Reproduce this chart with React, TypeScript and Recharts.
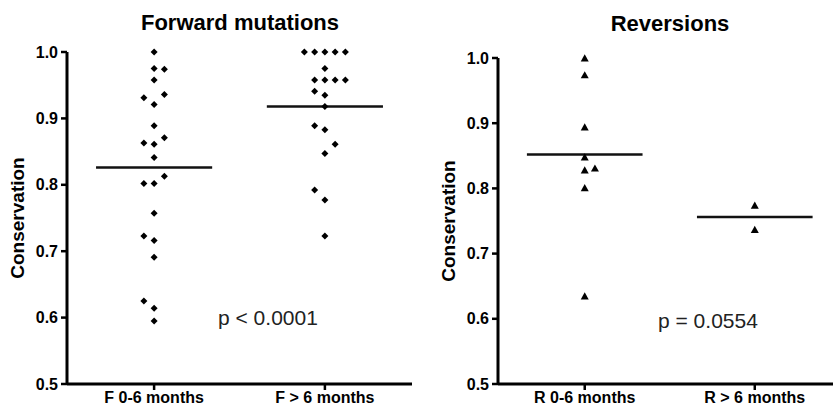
import { ScatterChart, Scatter, XAxis, YAxis, ReferenceLine } from "recharts";

// conservation values, with their dot column (-2..2) inside each group
const fEarlyValues = [1.0, 0.975, 0.974, 0.958, 0.931, 0.936, 0.921, 0.889, 0.863, 0.861, 0.871, 0.841, 0.813, 0.802, 0.802, 0.757, 0.723, 0.716, 0.691, 0.625, 0.614, 0.595];
const fEarlyCols = [0, 0, 1, 0, -1, 1, 0, 0, -1, 0, 1, 0, 1, -1, 0, 0, -1, 0, 0, -1, 0, 0];
const fLateValues = [1.0, 1.0, 1.0, 1.0, 1.0, 0.975, 0.958, 0.958, 0.958, 0.958, 0.941, 0.935, 0.918, 0.889, 0.883, 0.861, 0.847, 0.792, 0.777, 0.723];
const fLateCols = [-2, -1, 0, 1, 2, 0, -1, 0, 1, 2, -1, 0, 0, -1, 0, 1, 0, -1, 0, 0];
const rEarlyValues = [1.0, 0.974, 0.894, 0.848, 0.828, 0.831, 0.801, 0.635];
const rEarlyCols = [0, 0, 0, 0, 0, 1, 0, 0];
const rLateValues = [0.774, 0.737];
const rLateCols = [0, 0];

const forwardLabels = ["F 0-6 months", "F > 6 months"];
const reversionLabels = ["R 0-6 months", "R > 6 months"];
const forwardMeans = [0.826, 0.918];
const reversionMeans = [0.852, 0.756];
const yTicks = [0.5, 0.6, 0.7, 0.8, 0.9, 1.0];

const COL_STEP = 0.06;
const HALF_LINE = 0.34;
const FONT = "'Liberation Sans', Arial, Helvetica, sans-serif";

const toPoints = (group: number, values: number[], cols: number[]) =>
  values.map((v, i) => ({ x: group + cols[i] * COL_STEP, y: v }));

const Diamond = (props: any) => {
  const { cx, cy } = props;
  const r = 3.5;
  return <polygon points={`${cx},${cy - r} ${cx + r},${cy} ${cx},${cy + r} ${cx - r},${cy}`} fill="#000" />;
};

const Triangle = (props: any) => {
  const { cx, cy } = props;
  return <polygon points={`${cx},${cy - 3.8} ${cx + 4},${cy + 3.4} ${cx - 4},${cy + 3.4}`} fill="#000" />;
};

const tickStyle = { fill: "#000", fontSize: 16, fontWeight: 700, fontFamily: FONT };

function Panel(props: {
  left: number;
  width: number;
  top: number;
  right: number;
  yWidth: number;
  labelOffset: number;
  xMax: number;
  labels: string[];
  means: number[];
  groups: { x: number; y: number }[][];
  shape: any;
}) {
  const { left, width, top, right, yWidth, labelOffset, xMax, labels, means, groups, shape } = props;
  return (
    <div style={{ position: "absolute", left, top: 0 }}>
      <ScatterChart width={width} height={408} margin={{ top, right, bottom: 2, left: 0 }}>
        <XAxis
          type="number"
          dataKey="x"
          domain={[-0.51, xMax]}
          ticks={[0, 1]}
          tickFormatter={(v: number) => labels[v] ?? ""}
          height={22}
          tickSize={6}
          tickMargin={2}
          axisLine={{ stroke: "#000", strokeWidth: 3 }}
          tickLine={{ stroke: "#000", strokeWidth: 2.5 }}
          tick={tickStyle}
          allowDataOverflow
        />
        <YAxis
          type="number"
          dataKey="y"
          domain={[0.5, 1.0]}
          ticks={yTicks}
          tickFormatter={(v: number) => v.toFixed(1)}
          width={yWidth}
          tickSize={6}
          tickMargin={3}
          axisLine={{ stroke: "#000", strokeWidth: 3 }}
          tickLine={{ stroke: "#000", strokeWidth: 2.5 }}
          tick={tickStyle}
          label={{
            value: "Conservation",
            angle: -90,
            position: "insideLeft",
            offset: labelOffset,
            style: { textAnchor: "middle", fill: "#000", fontSize: 19, fontWeight: 700, fontFamily: FONT },
          }}
        />
        {groups.map((g, i) => (
          <Scatter key={i} data={g} shape={shape} isAnimationActive={false} />
        ))}
        {means.map((m, i) => (
          <ReferenceLine
            key={"m" + i}
            segment={[
              { x: i - HALF_LINE, y: m },
              { x: i + HALF_LINE, y: m },
            ]}
            stroke="#111"
            strokeWidth={2.5}
          />
        ))}
      </ScatterChart>
    </div>
  );
}

export default function App() {
  return (
    <div style={{ position: "absolute", left: 0, top: 0, width: 833, height: 408, background: "#fff" }}>
      <Panel
        left={0}
        width={420}
        top={52}
        right={8}
        yWidth={67}
        labelOffset={17}
        xMax={1.51}
        labels={forwardLabels}
        means={forwardMeans}
        groups={[toPoints(0, fEarlyValues, fEarlyCols), toPoints(1, fLateValues, fLateCols)]}
        shape={Diamond}
      />
      <Panel
        left={428}
        width={405}
        top={58}
        right={0}
        yWidth={70}
        labelOffset={20}
        xMax={1.46}
        labels={reversionLabels}
        means={reversionMeans}
        groups={[toPoints(0, rEarlyValues, rEarlyCols), toPoints(1, rLateValues, rLateCols)]}
        shape={Triangle}
      />
      <svg width={833} height={408} style={{ position: "absolute", left: 0, top: 0, pointerEvents: "none" }}>
        <text x={240} y={30} textAnchor="middle" fontSize={22} fontWeight={700} fontFamily={FONT} fill="#000">
          Forward mutations
        </text>
        <text x={670} y={31} textAnchor="middle" fontSize={22} fontWeight={700} fontFamily={FONT} fill="#000">
          Reversions
        </text>
        <text x={218} y={325} fontSize={21} fontFamily={FONT} fill="#222">
          p &lt; 0.0001
        </text>
        <text x={658} y={328} fontSize={21} fontFamily={FONT} fill="#222">
          p = 0.0554
        </text>
      </svg>
    </div>
  );
}
